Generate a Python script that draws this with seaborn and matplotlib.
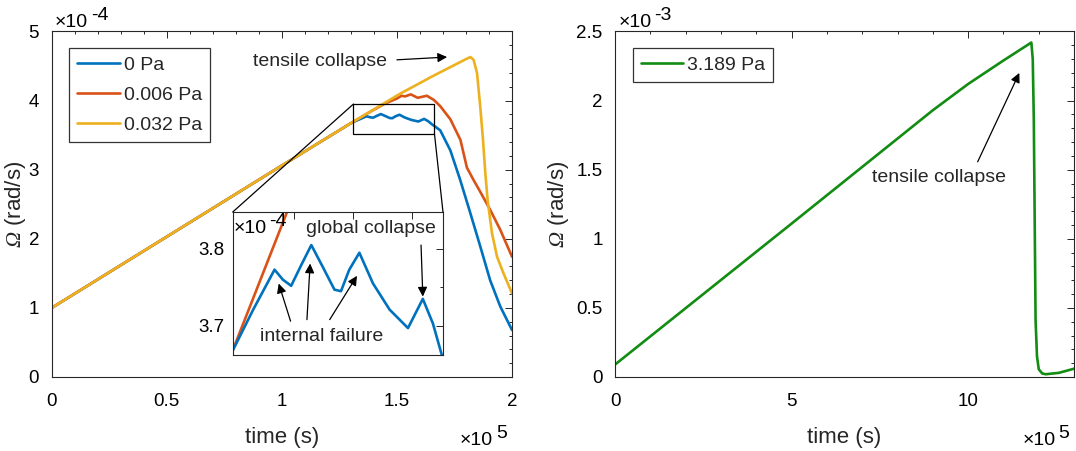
import matplotlib
matplotlib.use("Agg")
import matplotlib.pyplot as plt
import seaborn as sns
from matplotlib.patches import Rectangle, ConnectionPatch
from matplotlib.ticker import MultipleLocator, NullFormatter

# ---------------- data ----------------
# left panel: time in units of 1e5 s, Omega in units of 1e-4 rad/s
t_0pa = [0.0, 0.5, 1.0, 1.297, 1.332, 1.368, 1.382, 1.396, 1.413, 1.430, 1.449, 1.469,
         1.480, 1.494, 1.511, 1.534, 1.562, 1.593, 1.618, 1.635, 1.650, 1.688, 1.732,
         1.775, 1.819, 1.862, 1.905, 1.949, 2.0]
w_0pa = [1.0, 2.03, 3.06, 3.667, 3.721, 3.773, 3.760, 3.752, 3.779, 3.805, 3.777, 3.747,
         3.745, 3.773, 3.795, 3.755, 3.721, 3.697, 3.735, 3.703, 3.662, 3.57, 3.28,
         2.85, 2.37, 1.89, 1.40, 1.02, 0.68]

t_0006pa = [0.0, 0.5, 1.0, 1.297, 1.39, 1.45, 1.50, 1.52, 1.535, 1.56, 1.59, 1.63, 1.66,
            1.688, 1.732, 1.776, 1.804, 1.833, 1.862, 1.905, 1.949, 2.0]
w_0006pa = [1.0, 2.03, 3.06, 3.667, 3.85, 3.96, 4.03, 4.07, 4.06, 4.09, 4.04, 4.07, 4.01,
            3.92, 3.73, 3.43, 3.03, 2.85, 2.68, 2.42, 2.13, 1.74]

t_0032pa = [0.0, 0.5, 1.0, 1.297, 1.514, 1.659, 1.80, 1.819, 1.833, 1.848, 1.862, 1.874,
            1.884, 1.894, 1.913, 1.935, 1.963, 2.0]
w_0032pa = [1.0, 2.03, 3.06, 3.667, 4.10, 4.36, 4.60, 4.63, 4.59, 4.40, 3.91, 3.43,
            2.95, 2.56, 2.08, 1.74, 1.50, 1.21]

# right panel: time in units of 1e5 s, Omega in units of 1e-3 rad/s
t_3189pa = [0.0, 5.0, 9.0, 10.0, 11.0, 11.79, 11.83, 11.86, 11.91, 11.95, 12.0,
            12.1, 12.2, 12.57, 13.0]
w_3189pa = [0.09, 1.11, 1.93, 2.12, 2.29, 2.42, 2.30, 1.86, 0.41, 0.15, 0.056,
            0.025, 0.02, 0.03, 0.06]

labels_left = ["0 Pa", "0.006 Pa", "0.032 Pa"]
label_right = "3.189 Pa"
colors_left = ["#0072BD", "#D95319", "#EDB120"]
color_right = "#128C12"

# ---------------- style ----------------
sns.set_style("white")
FS = 14
FS_TICK = 13.5
FS_LAB = 16
FS_OFF = 14
AX_COL = "#262626"
plt.rcParams["font.family"] = ["Liberation Sans", "DejaVu Sans"]
plt.rcParams["mathtext.fontset"] = "custom"
plt.rcParams["mathtext.rm"] = "Liberation Sans"
plt.rcParams["mathtext.sf"] = "Liberation Serif:italic"
plt.rcParams["font.size"] = FS

fig = plt.figure(figsize=(10.76, 4.51), dpi=100)
ax1 = fig.add_axes([0.04805, 0.1641, 0.4278, 0.7661])
ax2 = fig.add_axes([0.5716, 0.1641, 0.4266, 0.7661])
axin = fig.add_axes([0.2163, 0.2129, 0.1954, 0.317])

LW = 1.9
ARROW = dict(arrowstyle="-|>", color="black", lw=0.9, mutation_scale=14,
             shrinkA=0, shrinkB=0)


def style_axes(ax):
    for s in ax.spines.values():
        s.set_color(AX_COL)
        s.set_linewidth(0.8)
        s.set_visible(True)
    ax.tick_params(which="both", direction="in", top=True, right=True,
                   colors=AX_COL, labelcolor="black", labelsize=FS_TICK)
    ax.tick_params(which="major", length=4.8, width=0.7)
    ax.tick_params(axis="x", which="major", pad=11.5)
    ax.tick_params(axis="y", which="major", pad=9)
    ax.tick_params(which="minor", length=2.5, width=0.7)
    ax.grid(False)
    ax.set_facecolor("white")


def offset_label(ax, x, y, exp, ha="left"):
    t = ax.text(x, y, "\u00d710", transform=ax.transAxes, ha=ha, va="baseline",
                fontsize=FS_OFF, color="black")
    ax.annotate(exp, xy=(1.0, 0.65), xycoords=t, xytext=(2.0, 0),
                textcoords="offset points", ha="left", va="baseline",
                fontsize=FS_OFF, color="black", annotation_clip=False)
    return t


# ---------------- left panel ----------------
for tt, ww, lab, col in zip([t_0pa, t_0006pa, t_0032pa], [w_0pa, w_0006pa, w_0032pa],
                            labels_left, colors_left):
    sns.lineplot(x=tt, y=ww, ax=ax1, color=col, linewidth=LW, label=lab,
                 estimator=None, sort=False)

ax1.set_xlim(0, 2)
ax1.set_ylim(0, 5)
ax1.set_xticks([0, 0.5, 1, 1.5, 2])
ax1.set_xticklabels(["0", "0.5", "1", "1.5", "2"])
ax1.xaxis.set_minor_locator(MultipleLocator(0.1))
ax1.set_yticks([0, 1, 2, 3, 4, 5])
ax1.set_yticklabels(["0", "1", "2", "3", "4", "5"])
ax1.yaxis.set_minor_locator(MultipleLocator(0.2))
style_axes(ax1)
ax1.set_xlabel("time (s)", fontsize=FS_LAB)
ax1.set_ylabel(r"$\mathsf{\Omega}$ (rad/s)", fontsize=FS_LAB)
ax1.xaxis.set_label_coords(0.5, -0.145)
ax1.yaxis.set_label_coords(-0.052, 0.5)

leg = ax1.legend(loc="upper left", bbox_to_anchor=(0.038, 0.951), borderaxespad=0,
                 fontsize=FS, frameon=True, fancybox=False, handlelength=2.2,
                 handletextpad=0.2, labelspacing=0.65, borderpad=0.4)
leg.get_frame().set_edgecolor("black")
leg.get_frame().set_linewidth(0.9)

offset_label(ax1, 0.007, 1.014, "-4")
offset_label(ax1, 0.887, -0.198, "5")

ax1.text(1.166, 4.56, "tensile collapse", ha="center", va="center", fontsize=FS)
ax1.annotate("", xy=(1.718, 4.63), xytext=(1.50, 4.59), arrowprops=ARROW)

# inset rectangle and connectors
rx0, rx1, ry0, ry1 = 1.311, 1.663, 3.52, 3.95
ax1.add_patch(Rectangle((rx0, ry0), rx1 - rx0, ry1 - ry0, fill=False,
                        edgecolor="black", lw=0.9, zorder=5))
for (xa, ya), (xb, yb) in [((rx0, ry1), (0, 1)), ((rx1, ry0), (1, 1))]:
    cp = ConnectionPatch(xyA=(xa, ya), coordsA=ax1.transData,
                         xyB=(xb, yb), coordsB=axin.transAxes,
                         color="black", lw=0.9, zorder=5)
    fig.add_artist(cp)

# ---------------- inset ----------------
sns.lineplot(x=t_0006pa, y=w_0006pa, ax=axin, color=colors_left[1], linewidth=LW,
             estimator=None, sort=False, legend=False)
sns.lineplot(x=t_0pa, y=w_0pa, ax=axin, color=colors_left[0], linewidth=LW,
             estimator=None, sort=False, legend=False)
axin.set_xlim(1.2975, 1.652)
axin.set_ylim(3.662, 3.848)
axin.set_xticks([1.4, 1.5, 1.6])
axin.xaxis.set_major_formatter(NullFormatter())
axin.set_yticks([3.7, 3.8])
axin.set_yticklabels(["3.7", "3.8"])
axin.yaxis.set_minor_locator(MultipleLocator(0.05))
style_axes(axin)
axin.tick_params(axis="y", which="major", pad=6)
axin.set_xlabel("")
axin.set_ylabel("")
offset_label(axin, 0.004, 0.851, "-4")

axin.text(1.530, 3.826, "global collapse", ha="center", va="center", fontsize=FS)
axin.annotate("", xy=(1.618, 3.738), xytext=(1.615, 3.805), arrowprops=ARROW)
axin.text(1.448, 3.686, "internal failure", ha="center", va="center", fontsize=FS)
for (x0, y0), (x1, y1) in [((1.395, 3.706), (1.375, 3.755)),
                           ((1.4226, 3.708), (1.428, 3.781)),
                           ((1.461, 3.708), (1.507, 3.765))]:
    axin.annotate("", xy=(x1, y1), xytext=(x0, y0), arrowprops=ARROW)

# ---------------- right panel ----------------
sns.lineplot(x=t_3189pa, y=w_3189pa, ax=ax2, color=color_right, linewidth=LW,
             label=label_right, estimator=None, sort=False)
ax2.set_xlim(0, 13)
ax2.set_ylim(0, 2.5)
ax2.set_xticks([0, 5, 10])
ax2.set_xticklabels(["0", "5", "10"])
ax2.xaxis.set_minor_locator(MultipleLocator(1))
ax2.set_yticks([0, 0.5, 1, 1.5, 2, 2.5])
ax2.set_yticklabels(["0", "0.5", "1", "1.5", "2", "2.5"])
ax2.yaxis.set_minor_locator(MultipleLocator(0.1))
style_axes(ax2)
ax2.set_xlabel("time (s)", fontsize=FS_LAB)
ax2.set_ylabel(r"$\mathsf{\Omega}$ (rad/s)", fontsize=FS_LAB)
ax2.xaxis.set_label_coords(0.5, -0.145)
ax2.yaxis.set_label_coords(-0.096, 0.5)

leg2 = ax2.legend(loc="upper left", bbox_to_anchor=(0.0386, 0.951), borderaxespad=0,
                  fontsize=FS, frameon=True, fancybox=False, handlelength=2.2,
                  handletextpad=0.2, borderpad=0.4)
leg2.get_frame().set_edgecolor("black")
leg2.get_frame().set_linewidth(0.9)

offset_label(ax2, 0.007, 1.014, "-3")
offset_label(ax2, 0.888, -0.198, "5")

ax2.text(9.18, 1.44, "tensile collapse", ha="center", va="center", fontsize=FS)
ax2.annotate("", xy=(11.45, 2.20), xytext=(10.27, 1.557), arrowprops=ARROW)

fig.savefig("out.png", dpi=100, facecolor="white")
